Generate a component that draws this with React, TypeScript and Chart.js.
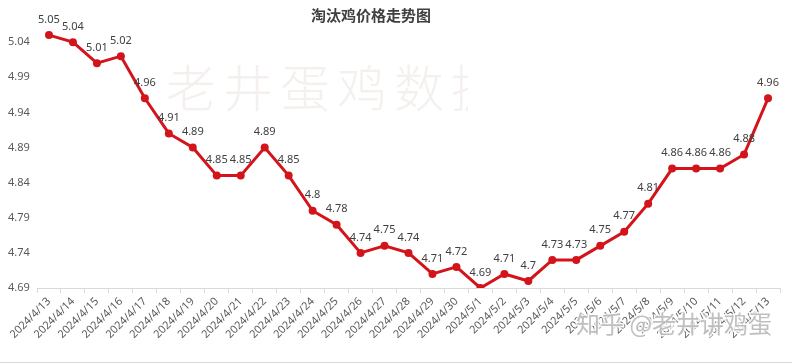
import React, { useEffect, useRef } from "react";
import { Chart, registerables } from "chart.js";

Chart.register(...registerables);

const chartTitle = "淘汰鸡价格走势图";
const watermarkMain = "老井蛋鸡数据";
const watermarkZhihu = "知乎 @老井讲鸡蛋";

const categories = [
  "2024/4/13", "2024/4/14", "2024/4/15", "2024/4/16", "2024/4/17", "2024/4/18",
  "2024/4/19", "2024/4/20", "2024/4/21", "2024/4/22", "2024/4/23", "2024/4/24",
  "2024/4/25", "2024/4/26", "2024/4/27", "2024/4/28", "2024/4/29", "2024/4/30",
  "2024/5/1", "2024/5/2", "2024/5/3", "2024/5/4", "2024/5/5", "2024/5/6",
  "2024/5/7", "2024/5/8", "2024/5/9", "2024/5/10", "2024/5/11", "2024/5/12",
  "2024/5/13",
];

const prices = [
  5.05, 5.04, 5.01, 5.02, 4.96, 4.91, 4.89, 4.85, 4.85, 4.89, 4.85, 4.8,
  4.78, 4.74, 4.75, 4.74, 4.71, 4.72, 4.69, 4.71, 4.7, 4.73, 4.73, 4.75,
  4.77, 4.81, 4.86, 4.86, 4.86, 4.88, 4.96,
];

const yTicks = [4.69, 4.74, 4.79, 4.84, 4.89, 4.94, 4.99, 5.04];
const yMin = 4.69;
const yMax = 5.09;

const FONT = "'Noto Sans', sans-serif";
const CJK = "'Noto Sans CJK SC', sans-serif";

const decorPlugin = {
  id: "decor",
  beforeDatasetsDraw(chart: any) {
    const ctx = chart.ctx;
    ctx.save();
    ctx.beginPath();
    ctx.rect(0, 0, 468, chart.height);
    ctx.clip();
    ctx.font = `300 50px ${CJK}`;
    ctx.fillStyle = "rgba(240,236,233,0.8)";
    ctx.textAlign = "left";
    ctx.textBaseline = "middle";
    let x = 166;
    for (const ch of watermarkMain) {
      ctx.fillText(ch, x, 88);
      x += 57;
    }
    ctx.restore();
  },
  afterDatasetsDraw(chart: any) {
    const ctx = chart.ctx;
    const meta = chart.getDatasetMeta(0);
    ctx.save();
    ctx.font = `11px ${FONT}`;
    ctx.fillStyle = "#404040";
    ctx.textAlign = "center";
    ctx.textBaseline = "bottom";
    meta.data.forEach((pt: any, i: number) => {
      ctx.fillText(String(prices[i]), pt.x, pt.y - 10);
    });
    ctx.restore();
  },
  afterDraw(chart: any) {
    const ctx = chart.ctx;
    ctx.save();
    ctx.font = `bold 15px ${CJK}`;
    ctx.fillStyle = "#404040";
    ctx.textAlign = "center";
    ctx.textBaseline = "middle";
    ctx.fillText(chartTitle, 371, 15);
    ctx.font = `24px ${CJK}`;
    ctx.textAlign = "left";
    ctx.textBaseline = "alphabetic";
    ctx.lineWidth = 3;
    ctx.strokeStyle = "rgba(255,255,255,0.8)";
    ctx.strokeText(watermarkZhihu, 576, 333);
    ctx.fillStyle = "rgba(165,165,165,0.7)";
    ctx.fillText(watermarkZhihu, 576, 333);
    ctx.strokeStyle = "#d9d9d9";
    ctx.lineWidth = 1;
    ctx.beginPath();
    ctx.moveTo(0, 362.5);
    ctx.lineTo(chart.width, 362.5);
    ctx.stroke();
    ctx.restore();
  },
};

export default function App() {
  const ref = useRef<HTMLCanvasElement>(null);

  useEffect(() => {
    if (!ref.current) return;
    const chart = new Chart(ref.current, {
      type: "line",
      data: {
        labels: categories,
        datasets: [
          {
            data: prices,
            borderColor: "#d3141b",
            backgroundColor: "#d3141b",
            borderWidth: 3,
            pointRadius: 4,
            pointBackgroundColor: "#d3141b",
            pointBorderColor: "#d3141b",
            pointBorderWidth: 0,
            tension: 0,
          },
        ],
      },
      options: {
        responsive: false,
        animation: false,
        devicePixelRatio: 1,
        layout: { padding: { left: 8, right: 12, top: 7, bottom: 0 } },
        plugins: {
          legend: { display: false },
          title: { display: false },
          tooltip: { enabled: false },
        },
        scales: {
          x: {
            type: "category",
            offset: true,
            grid: {
              display: true,
              offset: true,
              drawOnChartArea: false,
              drawTicks: true,
              tickLength: 5,
              color: "#d9d9d9",
            },
            border: { display: true, color: "#d9d9d9", width: 1 },
            ticks: {
              autoSkip: false,
              minRotation: 45,
              maxRotation: 45,
              color: "#595959",
              font: { family: FONT, size: 11 },
              padding: 2,
            },
            afterFit(scale: any) {
              scale.height = 76;
            },
          },
          y: {
            min: yMin,
            max: yMax,
            grid: { display: false },
            border: { display: false },
            ticks: {
              color: "#595959",
              font: { family: FONT, size: 11 },
              crossAlign: "far",
              padding: 0,
              callback: (v: any) => Number(v).toFixed(2),
            },
            afterBuildTicks(scale: any) {
              scale.ticks = yTicks.map((v) => ({ value: v }));
            },
            afterFit(scale: any) {
              scale.width = 29;
            },
          },
        },
      },
      plugins: [decorPlugin],
    });
    return () => chart.destroy();
  }, []);

  return (
    <div style={{ position: "fixed", left: 0, top: 0, width: 792, height: 364, background: "#fff" }}>
      <canvas ref={ref} width={792} height={364} style={{ display: "block" }} />
    </div>
  );
}
